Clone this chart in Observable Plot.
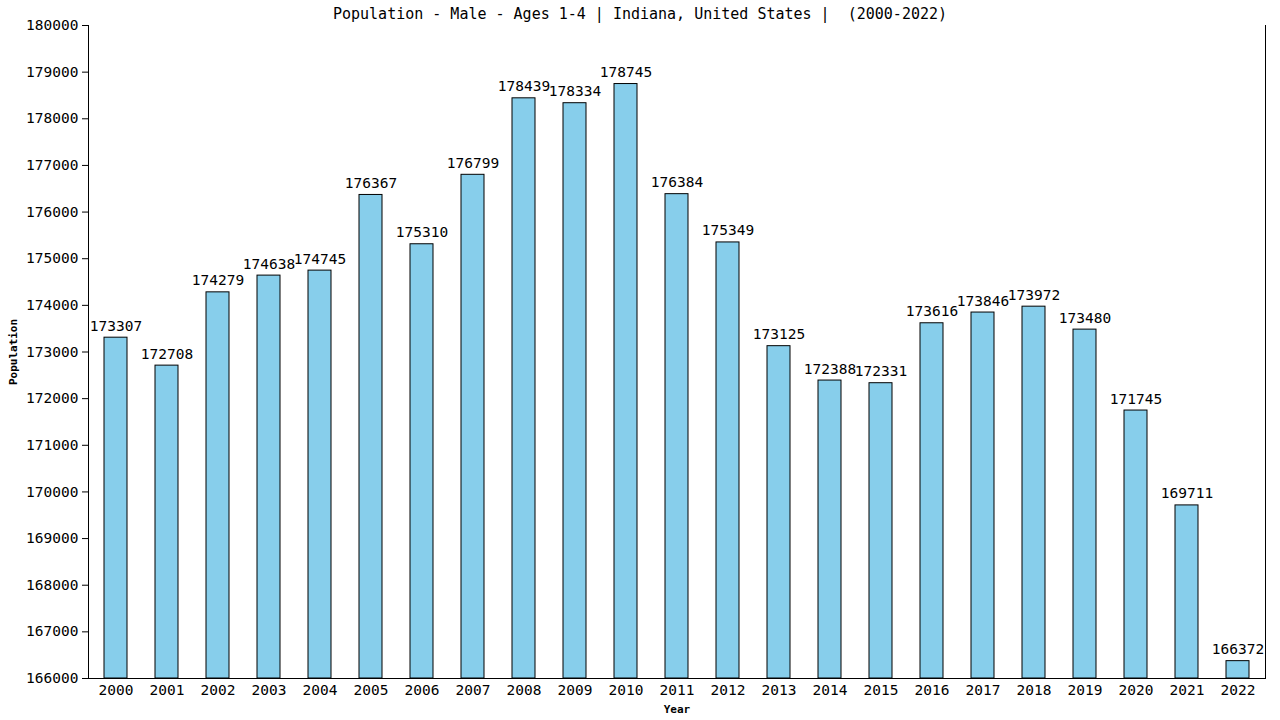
<!DOCTYPE html>
<html>
<head>
<meta charset="utf-8">
<script src="https://cdn.jsdelivr.net/npm/d3@7"></script>
<script src="https://cdn.jsdelivr.net/npm/@observablehq/plot@0.6"></script>
<style>
  html, body { margin: 0; padding: 0; background: #fff; }
  #wrap { position: relative; width: 1280px; height: 720px; }
  #title { position: absolute; top: 5px; left: 0; width: 1280px; text-align: center;
    font-family: "DejaVu Sans Mono", monospace; font-size: 15px; color: #000; white-space: pre; }
  svg { font-family: "DejaVu Sans Mono", monospace; }
  g[aria-label="y-axis label"] text, g[aria-label="x-axis label"] text { font-weight: bold; font-size: 11px; }
</style>
</head>
<body>
<div id="wrap"><div id="title">Population - Male - Ages 1-4 | Indiana, United States |  (2000-2022)</div></div>
<script>
const years = ["2000","2001","2002","2003","2004","2005","2006","2007","2008","2009","2010","2011","2012","2013","2014","2015","2016","2017","2018","2019","2020","2021","2022"];
const population = [173307,172708,174279,174638,174745,176367,175310,176799,178439,178334,178745,176384,175349,173125,172388,172331,173616,173846,173972,173480,171745,169711,166372];
const yTicks = d3.range(166000, 180001, 1000);

const data = years.map((y, i) => ({year: y, value: population[i]}));

const chart = Plot.plot({
  width: 1280,
  height: 720,
  marginLeft: 88,
  marginRight: 15,
  marginTop: 25,
  marginBottom: 42,
  style: {fontFamily: "'DejaVu Sans Mono', monospace", fontSize: "14.5px", color: "#000", background: "#fff"},
  x: {type: "band", domain: years, paddingInner: 0.54, paddingOuter: 0.27, align: 0.5},
  y: {domain: [166000, 180000]},
  marks: [
    Plot.barY(data, {x: "year", y1: 166000, y2: "value", fill: "#87CEEB", stroke: "#000", strokeWidth: 1}),
    Plot.text(data, {x: "year", y: "value", text: d => String(d.value), lineAnchor: "bottom", dy: -7, fill: "#000", fontSize: 14.5}),
    Plot.axisY({ticks: yTicks, tickFormat: d => String(d), tickSize: 6, tickPadding: 4, label: "Population", labelAnchor: "center", labelArrow: "none", labelOffset: 79, fontSize: 14.5}),
    Plot.axisX({tickSize: 0, tickPadding: 6, label: "Year", labelAnchor: "center", labelArrow: "none", labelOffset: 34, fontSize: 14.5}),
    Plot.frame({anchor: "left", stroke: "#000"}),
    Plot.frame({anchor: "right", stroke: "#000"}),
    Plot.frame({anchor: "bottom", stroke: "#000"})
  ]
});
document.getElementById("wrap").appendChild(chart);
</script>
</body>
</html>
